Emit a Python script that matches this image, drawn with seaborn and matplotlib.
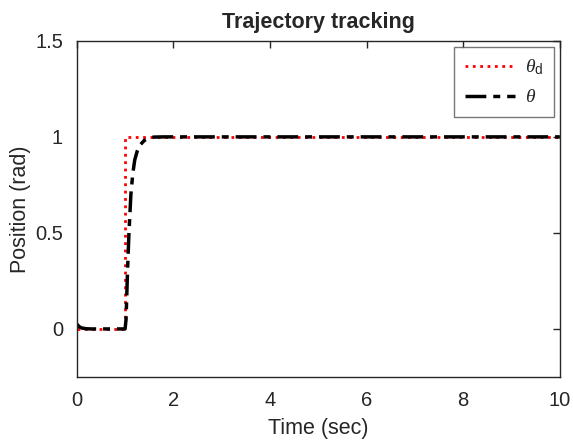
import pandas as pd
import matplotlib
matplotlib.use("Agg")
import matplotlib.pyplot as plt
import seaborn as sns

# desired trajectory (step at t = 1)
t_des = [0, 1, 1, 10]
theta_des = [0, 0, 1, 1]

t_act = [0, 0.05, 0.1, 0.2, 0.3, 1.0, 1.02, 1.05, 1.08, 1.12, 1.16, 1.2, 1.25,
         1.3, 1.4, 1.5, 1.6, 1.8, 10]
theta_act = [0.025, 0.012, 0.005, 0.001, 0, 0, 0.05, 0.3, 0.5, 0.7, 0.81, 0.88,
             0.925, 0.955, 0.982, 0.994, 0.999, 1.0, 1.0]

df_des = pd.DataFrame({'t': t_des, 'pos': theta_des})
df_act = pd.DataFrame({'t': t_act, 'pos': theta_act})

sns.set_style("white")
plt.rcParams['font.family'] = ['Liberation Sans', 'DejaVu Sans']
plt.rcParams['mathtext.fontset'] = 'custom'
plt.rcParams['mathtext.rm'] = 'Liberation Sans'
plt.rcParams['mathtext.it'] = 'Liberation Serif:italic'

fig = plt.figure(figsize=(5.73, 4.44), dpi=100)
ax = fig.add_axes([0.134, 0.151, 0.843, 0.757])

sns.lineplot(data=df_des, x='t', y='pos', ax=ax, estimator=None, sort=False,
             color='red', linestyle=':', linewidth=2, label=r'$\theta_{\mathrm{d}}$')
sns.lineplot(data=df_act, x='t', y='pos', ax=ax, estimator=None, sort=False,
             color='black', linestyle=(0, (6, 2, 2, 2)), linewidth=2.5,
             label=r'$\theta$')

ax.set_xlim(0, 10)
ax.set_ylim(-0.25, 1.5)
ax.set_xticks([0, 2, 4, 6, 8, 10])
ax.set_yticks([0, 0.5, 1, 1.5])
ax.set_yticklabels(['0', '0.5', '1', '1.5'])
ax.tick_params(direction='in', length=5, width=1, colors='#262626',
               labelsize=14.5, top=True, right=True, pad=10)
for s in ax.spines.values():
    s.set_color('#262626')
    s.set_linewidth(1)

ax.set_xlabel('Time (sec)', fontsize=15.5, color='#262626', labelpad=6)
ax.set_ylabel('Position (rad)', fontsize=15.5, color='#262626', labelpad=3)
ax.set_title('Trajectory tracking', fontsize=15.5, fontweight='bold', pad=9)

leg = ax.legend(loc='upper right', fontsize=14, frameon=True, fancybox=False,
                handlelength=2.6, handletextpad=0.5, borderaxespad=0.3,
                labelspacing=0.6, borderpad=0.55)
leg.get_frame().set_edgecolor('#555555')
leg.get_frame().set_linewidth(1)

fig.savefig('out.png', dpi=100)
